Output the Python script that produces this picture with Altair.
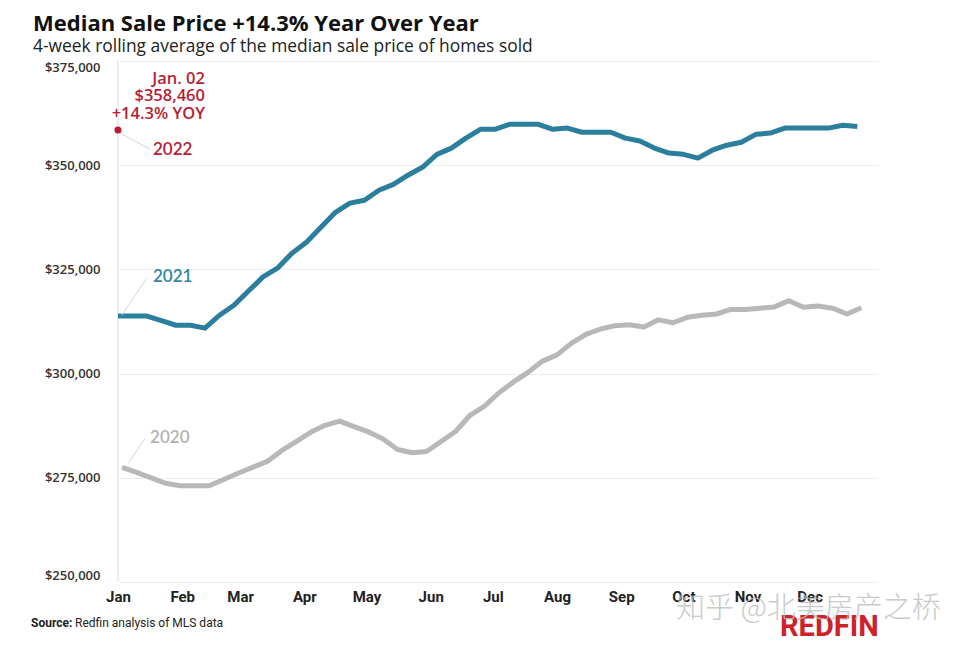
import altair as alt
import pandas as pd

# ---------------- data ----------------
months = ["Jan", "Feb", "Mar", "Apr", "May", "Jun", "Jul", "Aug", "Sep", "Oct", "Nov", "Dec"]
month_start_days = [0, 31, 59, 90, 120, 151, 181, 212, 243, 273, 304, 334]

# weekly 4-week rolling median sale price
values_2021 = [313800, 313800, 313800, 312700, 311600, 311600, 310900, 314000, 316400, 319800,
               323200, 325300, 328900, 331500, 335100, 338700, 340900, 341600, 344000, 345400,
               347600, 349500, 352600, 354100, 356500, 358600, 358600, 359800, 359800, 359800,
               358600, 358900, 357900, 357900, 357900, 356500, 355800, 354100, 352900, 352600,
               351700, 353600, 354800, 355500, 357400, 357700, 358900, 358900, 358900, 358900,
               359600, 359300]
values_2020 = [277500, 276300, 275000, 273700, 273100, 273100, 273100, 274600, 276100, 277500,
               278900, 281500, 283700, 285900, 287600, 288600, 287300, 286000, 284300, 281800,
               281000, 281300, 283700, 286100, 290000, 292200, 295400, 298000, 300300, 303000,
               304500, 307300, 309400, 310700, 311500, 311700, 311200, 312900, 312200, 313500,
               314000, 314300, 315400, 315400, 315700, 316000, 317500, 315900, 316200, 315700,
               314300, 315800]
start_day_2021 = 0
start_day_2020 = 2

point_2022 = {"day": 0, "value": 358460}
callout_lines = ["Jan. 02", "$358,460", "+14.3% YOY"]
callout_values = [370600, 366500, 362400]
callout_day = 42

series_labels = ["2020", "2021", "2022"]
series_label_colors = ["#b3b3b3", "#2f86a5", "#b51e35"]
series_label_days = [15.5, 16.9, 16.9]
series_label_values = [284560, 323150, 353600]

leader_day = [5.0, 1.8, 1.0]
leader_value = [278500, 314050, 357670]
leader_day2 = [13.0, 13.9, 15.5]
leader_value2 = [284490, 322840, 353840]

y_ticks = [250000, 275000, 300000, 325000, 350000, 375000]

# ---------------- tables ----------------
rows = []
for i, v in enumerate(values_2020):
    rows.append({"day": start_day_2020 + 7 * i, "value": v, "year": "2020"})
for i, v in enumerate(values_2021):
    rows.append({"day": start_day_2021 + 7 * i, "value": v, "year": "2021"})
df = pd.DataFrame(rows)

pt = pd.DataFrame([point_2022])
callout = pd.DataFrame({"day": [callout_day] * 3, "value": callout_values, "text": callout_lines})
lab = pd.DataFrame({"day": series_label_days, "value": series_label_values,
                    "text": series_labels, "clr": series_label_colors})
leaders = pd.DataFrame({"day": leader_day, "value": leader_value, "day2": leader_day2, "value2": leader_value2})

RED = "#b51e35"
TEAL = "#2b7e9c"
GREY = "#b8b8b8"
NARROW = "Roboto"

month_expr = ("[" + ",".join(f"'{m}'" for m in months) + "][indexof(["
              + ",".join(str(d) for d in month_start_days) + "], datum.value)]")

x_enc = alt.X("day:Q",
              scale=alt.Scale(domain=[0, 367], nice=False, zero=False),
              axis=alt.Axis(values=month_start_days, labelExpr=month_expr, grid=False,
                            ticks=False, domain=False, title=None, labelFlush=False,
                            labelOverlap=False, labelFont=NARROW,
                            labelFontSize=15, labelFontWeight="bold", labelColor="#222",
                            labelPadding=7))
y_enc = alt.Y("value:Q",
              scale=alt.Scale(domain=[250000, 375000], nice=False, zero=False),
              axis=alt.Axis(values=y_ticks, format="$,d", grid=True, gridColor="#ededed",
                            ticks=False, domain=False, title=None, labelFlush=True,
                            labelPadding=18, labelFont="Open Sans", labelFontSize=13,
                            labelFontWeight=600, labelColor="#333"))

rule = alt.Chart(pt).mark_rule(color="#dcdcdc", strokeWidth=1).encode(x=alt.X("day:Q"))

lines = alt.Chart(df).mark_line(strokeWidth=5, strokeJoin="round").encode(
    x=x_enc, y=y_enc,
    color=alt.Color("year:N", scale=alt.Scale(domain=["2020", "2021"], range=[GREY, TEAL]), legend=None),
    detail="year:N",
)

lead = alt.Chart(leaders).mark_rule(color="#d4d4d4", strokeWidth=1).encode(
    x="day:Q", y="value:Q", x2="day2:Q", y2="value2:Q")

dot = alt.Chart(pt).mark_circle(color=RED, size=50, opacity=1).encode(x="day:Q", y="value:Q")

callout_txt = alt.Chart(callout).mark_text(
    align="right", baseline="middle", font="Open Sans", fontSize=16.5, fontWeight=600, color=RED
).encode(x="day:Q", y="value:Q", text="text:N")

label_txt = alt.Chart(lab).mark_text(
    align="left", baseline="middle", font="Lato", fontSize=17, fontWeight=600
).encode(x="day:Q", y="value:Q", text="text:N", color=alt.Color("clr:N", scale=None))

source_b = alt.Chart(pt).mark_text(
    align="left", baseline="middle", font=NARROW,
    fontSize=12, fontWeight="bold", color="#222", text="Source:"
).encode(x=alt.value(-87), y=alt.value(562))

source_r = alt.Chart(pt).mark_text(
    align="left", baseline="middle", font=NARROW,
    fontSize=12, color="#222", text="Redfin analysis of MLS data"
).encode(x=alt.value(-43), y=alt.value(562))

logo = alt.Chart(pt).mark_text(
    align="left", baseline="middle", font=NARROW,
    fontSize=29, fontWeight="bold", color="#cf2228", text="REDFIN"
).encode(x=alt.value(662), y=alt.value(566))

watermark = alt.Chart(pt).mark_text(
    align="left", baseline="middle", font="Noto Sans CJK SC", fontSize=29, fontWeight=300,
    color="#bdbdbd", opacity=0.8, text="知乎 @北美房产之桥"
).encode(x=alt.value(558), y=alt.value(548))

chart = alt.layer(rule, lines, lead, dot, callout_txt, label_txt,
                  source_b, source_r, logo, watermark).properties(
    width=760, height=521,
    padding={"left": 110, "top": 53, "right": 78, "bottom": 60},
    autosize=alt.AutoSizeParams(type="none"),
    title=alt.TitleParams(
        text="Median Sale Price +14.3% Year Over Year",
        subtitle="4-week rolling average of the median sale price of homes sold",
        anchor="start", frame="group", dx=-85, offset=4,
        font="Open Sans", fontSize=22, fontWeight="bold", color="#111",
        subtitleFont="Open Sans", subtitleFontSize=17.4, subtitleColor="#222", subtitlePadding=2,
    ),
).configure_view(stroke=None)

chart.save("out.html", embed_options={"renderer": "svg", "actions": False})
